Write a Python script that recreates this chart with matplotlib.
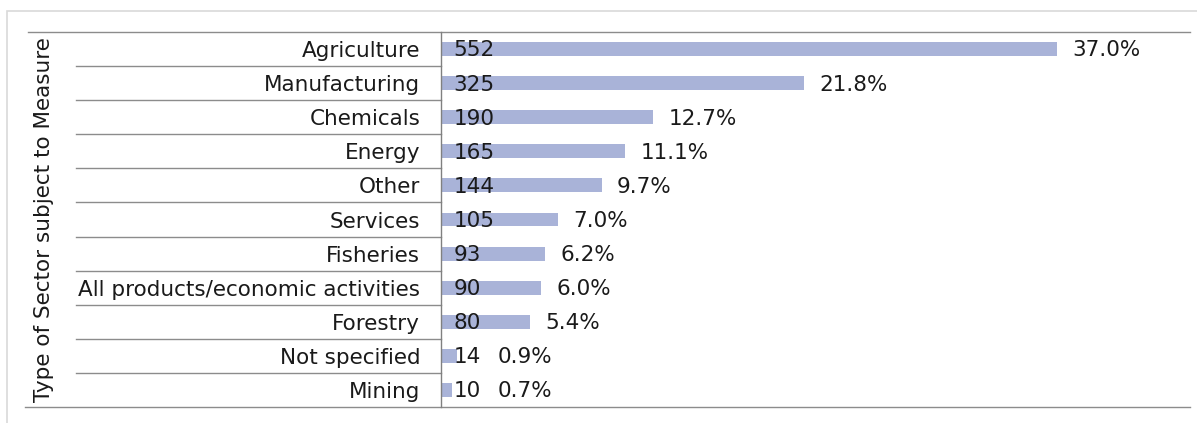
import numpy as np
import matplotlib.pyplot as plt
from matplotlib.lines import Line2D
from matplotlib.patches import Rectangle
from matplotlib.transforms import blended_transform_factory

sectors = ["Agriculture", "Manufacturing", "Chemicals", "Energy", "Other",
           "Services", "Fisheries", "All products/economic activities",
           "Forestry", "Not specified", "Mining"]
counts = [552, 325, 190, 165, 144, 105, 93, 90, 80, 14, 10]
shares = [37.0, 21.8, 12.7, 11.1, 9.7, 7.0, 6.2, 6.0, 5.4, 0.9, 0.7]

W, H = 1197, 423
plt.rcParams["font.family"] = "DejaVu Sans"
fig = plt.figure(figsize=(W / 100, H / 100), dpi=100)

# plot area in pixels
x0, x1, y0, y1 = 441, 1190, 32, 407
ax = fig.add_axes([x0 / W, 1 - y1 / H, (x1 - x0) / W, (y1 - y0) / H])

fs = 15.5
bar_color = "#A9B3D8"
y = np.arange(len(sectors))
ax.barh(y, counts, height=0.41, color=bar_color, zorder=2)
ax.set_xlim(0, 671)
ax.set_ylim(len(sectors) - 0.5, -0.5)

ax.set_yticks(y)
ax.set_yticklabels(sectors, fontsize=fs, color="#1a1a1a")
ax.tick_params(axis="y", length=0, pad=15)
ax.set_xticks([])

for s in ["right", "top", "bottom"]:
    ax.spines[s].set_visible(False)
ax.spines["left"].set_color("#808080")
ax.spines["left"].set_linewidth(1.0)

for i, (c, p) in enumerate(zip(counts, shares)):
    ax.annotate(str(c), xy=(0, i), xytext=(9, -1), textcoords="offset points",
                ha="left", va="center", fontsize=fs, color="#1a1a1a")
    px = max(c, 37)
    ax.annotate("{:.1f}%".format(p), xy=(px, i), xytext=(11, -1),
                textcoords="offset points", ha="left", va="center",
                fontsize=fs, color="#1a1a1a")

# row separators in the label column
tr = blended_transform_factory(ax.transAxes, ax.transData)
def fx(px):
    return (px - x0) / (x1 - x0)

n = len(sectors)
for k in range(n + 1):
    yy = k - 0.5
    if k == 0:
        xs = [fx(28), 1.0]
    elif k == n:
        xs = [fx(25), 1.0]
    else:
        xs = [fx(76), 0.0]
    ax.add_line(Line2D(xs, [yy, yy], transform=tr, color="#8c8c8c",
                       lw=1.0, clip_on=False))

ax.text(fx(44), 0.5, "Type of Sector subject to Measure", transform=ax.transAxes,
        rotation=90, ha="center", va="center", fontsize=fs, color="#1a1a1a")

# outer chart frame (cropped by the image edges)
fig.add_artist(Rectangle((7 / W, -0.1), 1.2, 1 - 11 / H + 0.1,
                         transform=fig.transFigure, fill=False,
                         edgecolor="#d9d9d9", lw=1.2))

fig.savefig("out.png", dpi=100)
